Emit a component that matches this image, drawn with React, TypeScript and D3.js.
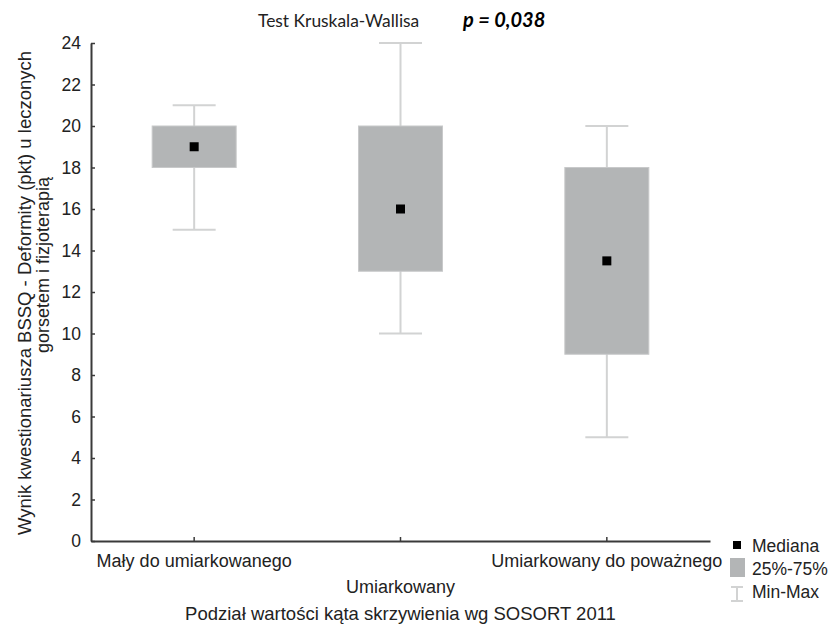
import React, { useRef, useEffect } from 'react';
import * as d3 from 'd3';

// data
const categories = ["Mały do umiarkowanego", "Umiarkowany", "Umiarkowany do poważnego"];
const minValues = [15, 10, 5];
const q1Values = [18, 13, 9];
const medianValues = [19, 16, 13.5];
const q3Values = [20, 20, 18];
const maxValues = [21, 24, 20];
const yTicks = [0, 2, 4, 6, 8, 10, 12, 14, 16, 18, 20, 22, 24];
const legendLabels = ["Mediana", "25%-75%", "Min-Max"];

const WIDTH = 832;
const HEIGHT = 625;
const FONT = "'Liberation Sans', Arial, sans-serif";

export default function App() {
    const svgRef = useRef<SVGSVGElement>(null);

    useEffect(() => {
        if (!svgRef.current) return;
        const root = d3.select(svgRef.current);
        root.selectAll("*").remove();

        const margin = { top: 43, right: 122, bottom: 84, left: 91 };
        const chartWidth = WIDTH - margin.left - margin.right;
        const chartHeight = HEIGHT - margin.top - margin.bottom;

        const svg = root.append("g")
            .attr("transform", `translate(${margin.left},${margin.top})`);

        const x = d3.scaleBand()
            .domain(categories)
            .range([0, chartWidth]);

        const y = d3.scaleLinear()
            .domain([0, 24])
            .range([chartHeight, 0]);

        const boxW = 84;
        const capW = 43;
        const whiskerColor = "#d2d3d3";
        const boxFill = "#b3b5b6";

        const rows = categories.map((c, i) => ({
            cat: c,
            min: minValues[i],
            q1: q1Values[i],
            med: medianValues[i],
            q3: q3Values[i],
            max: maxValues[i]
        }));

        const cx = (d: { cat: string }) => x(d.cat)! + x.bandwidth() / 2;

        // whiskers
        const g = svg.selectAll(".box").data(rows).enter().append("g").attr("class", "box");
        g.append("line")
            .attr("x1", cx).attr("x2", cx)
            .attr("y1", d => y(d.max)).attr("y2", d => y(d.min))
            .attr("stroke", whiskerColor).attr("stroke-width", 2);
        g.append("line")
            .attr("x1", d => cx(d) - capW / 2).attr("x2", d => cx(d) + capW / 2)
            .attr("y1", d => y(d.max)).attr("y2", d => y(d.max))
            .attr("stroke", whiskerColor).attr("stroke-width", 2);
        g.append("line")
            .attr("x1", d => cx(d) - capW / 2).attr("x2", d => cx(d) + capW / 2)
            .attr("y1", d => y(d.min)).attr("y2", d => y(d.min))
            .attr("stroke", whiskerColor).attr("stroke-width", 2);

        // boxes
        g.append("rect")
            .attr("x", d => cx(d) - boxW / 2)
            .attr("y", d => y(d.q3))
            .attr("width", boxW)
            .attr("height", d => y(d.q1) - y(d.q3))
            .attr("fill", boxFill)
            .attr("stroke", "#c8c9ca")
            .attr("stroke-width", 1);

        // medians
        g.append("rect")
            .attr("x", d => cx(d) - 4.5)
            .attr("y", d => y(d.med) - 4.5)
            .attr("width", 9).attr("height", 9)
            .attr("fill", "#000");

        // axes
        const yAxis = svg.append("g")
            .call(d3.axisLeft(y).tickValues(yTicks).tickSizeInner(-4).tickSizeOuter(0).tickPadding(10));
        yAxis.select(".domain").attr("stroke", "#3a3a3a").attr("stroke-width", 2);
        yAxis.selectAll(".tick line").attr("stroke", "#3a3a3a").attr("stroke-width", 1.5);
        yAxis.selectAll("text")
            .style("font-family", FONT).style("font-size", "17.5px").attr("fill", "#222");

        const xAxis = svg.append("g")
            .attr("transform", `translate(0,${chartHeight})`)
            .call(d3.axisBottom(x).tickSizeInner(-4).tickSizeOuter(0).tickFormat(() => ""));
        xAxis.select(".domain").attr("stroke", "#3a3a3a").attr("stroke-width", 2);
        xAxis.selectAll(".tick line").attr("stroke", "#3a3a3a").attr("stroke-width", 1.5);

        // staggered category labels
        svg.selectAll(".cat-label")
            .data(categories)
            .enter()
            .append("text")
            .attr("x", d => x(d)! + x.bandwidth() / 2)
            .attr("y", (d, i) => chartHeight + (i % 2 === 0 ? 26 : 52))
            .attr("text-anchor", "middle")
            .style("font-family", FONT).style("font-size", "18px").attr("fill", "#222")
            .text(d => d);

        // x title
        svg.append("text")
            .attr("x", chartWidth / 2)
            .attr("y", chartHeight + 79)
            .attr("text-anchor", "middle")
            .style("font-family", FONT).style("font-size", "18.5px").attr("fill", "#222")
            .text("Podział wartości kąta skrzywienia wg SOSORT 2011");

        // y title (two lines)
        root.append("text")
            .attr("transform", `translate(31,293) rotate(-90)`)
            .attr("text-anchor", "middle")
            .style("font-family", FONT).style("font-size", "18.5px").attr("fill", "#222")
            .text("Wynik kwestionariusza BSSQ - Deformity (pkt) u leczonych");
        root.append("text")
            .attr("transform", `translate(49,265) rotate(-90)`)
            .attr("text-anchor", "middle")
            .style("font-family", FONT).style("font-size", "18px").attr("fill", "#222")
            .text("gorsetem i fizjoterapią");

        // top annotation
        root.append("text")
            .attr("x", 258).attr("y", 27)
            .style("font-family", "Lato, 'Open Sans', sans-serif").style("font-size", "17.4px").attr("fill", "#222")
            .text("Test Kruskala-Wallisa");
        root.append("text")
            .attr("x", 463).attr("y", 27)
            .style("font-family", "Lato, 'Open Sans', sans-serif").style("font-size", "20px")
            .style("font-weight", "bold").style("font-style", "italic").attr("fill", "#000")
            .text("p = 0,038");

        // legend
        const lg = root.append("g").attr("transform", "translate(730,0)");
        lg.append("rect").attr("x", 3).attr("y", 541).attr("width", 8).attr("height", 8).attr("fill", "#000");
        lg.append("rect").attr("x", 0).attr("y", 558).attr("width", 15).attr("height", 19).attr("fill", boxFill);
        lg.append("line").attr("x1", 7).attr("x2", 7).attr("y1", 587).attr("y2", 601).attr("stroke", whiskerColor).attr("stroke-width", 2);
        lg.append("line").attr("x1", 1).attr("x2", 13).attr("y1", 587).attr("y2", 587).attr("stroke", whiskerColor).attr("stroke-width", 2);
        lg.append("line").attr("x1", 1).attr("x2", 13).attr("y1", 601).attr("y2", 601).attr("stroke", whiskerColor).attr("stroke-width", 2);
        lg.selectAll(".lg-text")
            .data(legendLabels)
            .enter()
            .append("text")
            .attr("x", 22)
            .attr("y", (d, i) => 552 + i * 23)
            .style("font-family", FONT).style("font-size", "17.5px").attr("fill", "#222")
            .text(d => d);
    }, []);

    return (
        <div style={{ position: "absolute", left: 0, top: 0 }}>
            <svg ref={svgRef} width={WIDTH} height={HEIGHT} style={{ background: "#fff", display: "block" }} />
        </div>
    );
}
